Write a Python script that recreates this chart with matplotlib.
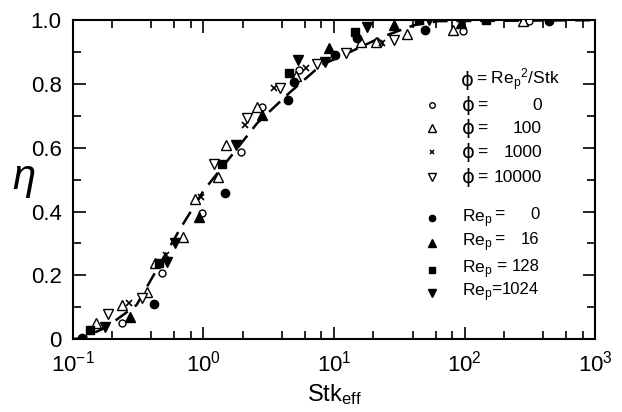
import matplotlib
matplotlib.use("Agg")
import matplotlib.pyplot as plt
from matplotlib.ticker import LogLocator, FixedLocator, NullFormatter

plt.rcParams['font.family'] = ['Liberation Sans', 'DejaVu Sans']
plt.rcParams['mathtext.fontset'] = 'custom'
plt.rcParams['mathtext.rm'] = 'Liberation Sans'
plt.rcParams['mathtext.it'] = 'Liberation Sans:italic'
plt.rcParams['mathtext.bf'] = 'Liberation Sans:bold'

# ---- data (Stk_eff, eta) ----
phi0_x = [0.24, 0.486, 0.98, 1.95, 2.82, 5.4, 22.0, 97, 313]
phi0_y = [0.05, 0.207, 0.395, 0.586, 0.727, 0.843, 0.928, 0.966, 0.997]

phi100_x = [0.15, 0.24, 0.367, 0.423, 0.703, 0.87, 1.30, 1.50, 2.58, 5.1, 16.2, 21.0, 36, 82, 282]
phi100_y = [0.05, 0.107, 0.147, 0.238, 0.32, 0.44, 0.508, 0.608, 0.727, 0.824, 0.931, 0.931, 0.956, 0.969, 0.997]

phi1000_x = [0.27, 0.52, 0.96, 2.09, 3.5, 6.1, 23.5]
phi1000_y = [0.113, 0.263, 0.445, 0.67, 0.787, 0.85, 0.928]

phi10000_x = [0.185, 0.336, 1.21, 2.17, 3.87, 7.4, 12.4, 28.8]
phi10000_y = [0.078, 0.13, 0.55, 0.693, 0.787, 0.862, 0.897, 0.937]

re0_x = [0.117, 0.415, 1.47, 4.46, 4.95, 10.2, 15.0, 50, 440]
re0_y = [0.003, 0.11, 0.458, 0.749, 0.806, 0.89, 0.944, 0.969, 0.997]

re16_x = [0.272, 0.93, 2.82, 9.2, 28.8, 93]
re16_y = [0.069, 0.382, 0.702, 0.912, 0.984, 0.99]

re128_x = [0.135, 0.454, 1.40, 4.52, 14.5, 44.8, 145]
re128_y = [0.028, 0.238, 0.55, 0.834, 0.962, 1.0, 1.0]

re1024_x = [0.175, 0.522, 0.611, 1.79, 5.3, 8.5, 17.9, 53]
re1024_y = [0.038, 0.241, 0.30, 0.608, 0.875, 0.87, 0.978, 1.0]

curve_x = [0.1, 0.119, 0.182, 0.308, 0.437, 0.655, 1.01, 1.58, 2.58, 4.52, 7.95, 10.9, 23.2, 40.7, 63.0, 1000]
curve_y = [0.0, 0.003, 0.038, 0.107, 0.216, 0.342, 0.467, 0.567, 0.677, 0.771, 0.859, 0.884, 0.947, 0.984, 0.997, 1.0]

x_ticks = [0.1, 1, 10, 100, 1000]
x_ticklabels = ['$10^{-1}$', '$10^{0}$', '$10^{1}$', '$10^{2}$', '$10^{3}$']
y_ticks = [0.0, 0.2, 0.4, 0.6, 0.8, 1.0]
y_ticklabels = ['0', '0.2', '0.4', '0.6', '0.8', '1.0']
y_minor = [0.1, 0.3, 0.5, 0.7, 0.9]

phi_values = ['0', '100', '1000', '10000']
re_values = ['0', '16', '128', '1024']

fig = plt.figure(figsize=(6.22, 4.12), dpi=100)
ax = fig.add_axes([0.117, 0.177, 0.840, 0.774])

ax.plot(curve_x, curve_y, color='black', lw=1.8, dashes=(6, 3.5), zorder=1)

open_kw = dict(linestyle='none', markerfacecolor='white', markeredgecolor='black', markeredgewidth=1.0, zorder=3)
fill_kw = dict(linestyle='none', color='black', zorder=3)

ax.plot(phi0_x, phi0_y, marker='o', markersize=5, **open_kw)
ax.plot(phi100_x, phi100_y, marker='^', markersize=7, **open_kw)
ax.plot(phi1000_x, phi1000_y, marker='x', markersize=4.5, linestyle='none', color='black', markeredgewidth=1.2, zorder=3)
ax.plot(phi10000_x, phi10000_y, marker='v', markersize=7, **open_kw)
ax.plot(re0_x, re0_y, marker='o', markersize=6, **fill_kw)
ax.plot(re16_x, re16_y, marker='^', markersize=7, **fill_kw)
ax.plot(re128_x, re128_y, marker='s', markersize=6, **fill_kw)
ax.plot(re1024_x, re1024_y, marker='v', markersize=7, **fill_kw)

ax.set_xscale('log')
ax.set_xlim(0.1, 1000)
ax.set_ylim(0, 1.0)

ax.set_xticks(x_ticks)
ax.set_xticklabels(x_ticklabels)
ax.xaxis.set_minor_locator(LogLocator(base=10, subs=[2, 4, 6, 8], numticks=10))
ax.xaxis.set_minor_formatter(NullFormatter())
ax.set_yticks(y_ticks)
ax.set_yticklabels(y_ticklabels)
ax.yaxis.set_minor_locator(FixedLocator(y_minor))

ax.tick_params(which='both', direction='in', top=True, right=True, width=1.2)
ax.tick_params(which='major', length=9, labelsize=16, pad=8)
ax.tick_params(which='minor', length=6)
for s in ax.spines.values():
    s.set_linewidth(1.5)

ax.set_xlabel('Stk$_{\\mathregular{eff}}$', fontsize=17, labelpad=4)
ax.set_ylabel('$\\eta$', fontsize=30, rotation=0, va='center')
ax.yaxis.set_label_coords(-0.095, 0.5)

# legend drawn as text
T = ax.transAxes
FS = 12.5
ax.text(0.743, 0.812, 'ϕ', transform=T, fontsize=14, va='center', ha='left', family=['DejaVu Sans'])
ax.text(0.772, 0.812, '= Re$_{\\mathregular{p}}$$^{2}$/Stk', transform=T, fontsize=FS, va='center', ha='left')
phi_rows_y = [0.734, 0.661, 0.586, 0.508]
phi_mk = [dict(marker='o', markersize=4, **open_kw),
          dict(marker='^', markersize=5.5, **open_kw),
          dict(marker='x', markersize=3.5, linestyle='none', color='black', markeredgewidth=1.1),
          dict(marker='v', markersize=5.5, **open_kw)]
for yy, val, mk in zip(phi_rows_y, phi_values, phi_mk):
    ax.plot([0.688], [yy], transform=T, clip_on=False, **mk)
    ax.text(0.745, yy, 'ϕ', transform=T, fontsize=14, va='center', ha='left', family=['DejaVu Sans'])
    ax.text(0.774, yy, '=', transform=T, fontsize=FS, va='center', ha='left')
    ax.text(0.898, yy, val, transform=T, fontsize=FS, va='center', ha='right')

re_rows_y = [0.379, 0.301, 0.216, 0.144]
re_eq_x = [0.806, 0.806, 0.810, 0.801]
re_mk = ['o', '^', 's', 'v']
re_ms = [4.5, 5.5, 5, 5.5]
for yy, ex, val, m, ms in zip(re_rows_y, re_eq_x, re_values, re_mk, re_ms):
    ax.plot([0.688], [yy], marker=m, markersize=ms, linestyle='none', color='black', transform=T, clip_on=False)
    ax.text(0.745, yy, 'Re$_{\\mathregular{p}}$', transform=T, fontsize=FS, va='center', ha='left')
    ax.text(ex, yy + 0.012, '=', transform=T, fontsize=FS, va='center', ha='left')
    ax.text(0.893, yy + 0.012, val, transform=T, fontsize=FS - 0.5, va='center', ha='right')

fig.savefig('out.png', dpi=100)
